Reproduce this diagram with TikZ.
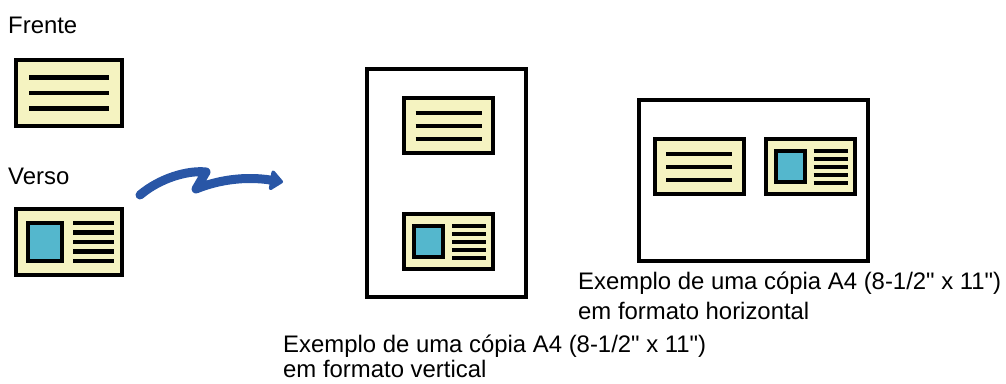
\documentclass[tikz,border=0pt]{standalone}
\usepackage{fontspec}
\setmainfont{Liberation Sans}[Ligatures=TeXOff]
\usetikzlibrary{arrows.meta}

\definecolor{cardfill}{RGB}{245,243,193}
\definecolor{photoblue}{RGB}{84,183,205}
\definecolor{arrowblue}{RGB}{41,86,166}

\begin{document}
\begin{tikzpicture}[
  x=1pt, y=-1pt,
  page/.style={rectangle, draw, line width=4pt, fill=white, inner sep=0pt},
  card/.style={rectangle, draw, line width=4pt, fill=cardfill, minimum width=89pt, minimum height=55pt, inner sep=0pt},
  photo/.style={rectangle, draw, line width=4pt, fill=photoblue, minimum width=29pt, minimum height=31pt, inner sep=0pt},
  txtline/.style={line width=4pt},
  label/.style={anchor=base west, inner sep=0pt, font=\fontsize{23.9}{28}\selectfont},
  squiggle/.style={arrowblue, line width=9pt, line cap=round, line join=round},
  front/.pic={
    \node[card] (-card) at (0,0) {};
    \foreach \y in {-13,0,13} { \draw[txtline] (-33,\y) -- (33,\y); }
  },
  back/.pic={
    \node[card] (-card) at (0,0) {};
    \node[photo] (-photo) at (-20,0) {};
    \foreach \y in {-16,-8,0,8,16} { \draw[txtline] (3.5,\y) -- (37.5,\y); }
  }
]
\useasboundingbox (0,0) rectangle (1006,383);

% original card, both sides
\node[label] (front) at (8,33) {Frente};
\pic[scale=1.2, transform shape, txtline/.style={line width=4.5pt}] (f0) at (69,93) {front};
\node[label] (verso) at (8,184) {Verso};
\pic[scale=1.2, transform shape, txtline/.style={line width=4.5pt}] (b0) at (69,242) {back};

% squiggly arrow
\coordinate (from) at (140,195);
\coordinate (to) at (283,182);
\draw[squiggle, -{Triangle[round, length=14pt, width=23pt]}] (from) .. controls (160,178) and (188,170) .. (206,172) -- (196,189) .. controls (218,180) and (245,176) .. (to);

% vertical copy
\node[page, minimum width=159pt, minimum height=228pt] (vpage) at (446.5,183) {};
\pic (f1) at (448.5,125.5) {front};
\pic (b1) at (448.5,241.5) {back};
\node[label] (vcap1) at (283,352) {Exemplo de uma cópia A4 (8-1/2" x 11")};
\node[label] (vcap2) at (283,377) {em formato vertical};

% horizontal copy
\node[page, minimum width=229pt, minimum height=161pt] (hpage) at (753.5,180.5) {};
\pic (f2) at (699,166.5) {front};
\pic (b2) at (810,166.5) {back};
\node[label] (hcap1) at (578,289) {Exemplo de uma cópia A4 (8-1/2" x 11")};
\node[label] (hcap2) at (578,319) {em formato horizontal};
\end{tikzpicture}
\end{document}
